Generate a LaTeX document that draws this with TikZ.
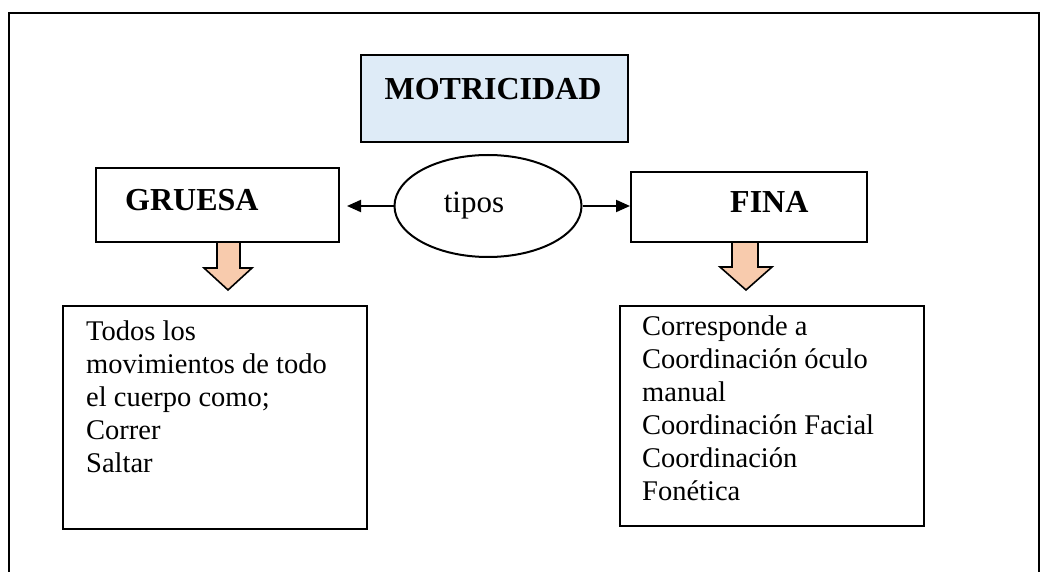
\documentclass[tikz,border=0pt]{standalone}
\usepackage{fontspec}
\setmainfont{Liberation Serif}
\usetikzlibrary{shapes.geometric,arrows.meta}
\definecolor{peach}{HTML}{F8CBAD}
\definecolor{lightblue}{HTML}{DEEBF7}
\tikzset{
  boxnode/.style={draw=black, line width=2pt, rectangle, inner sep=0pt},
  heading/.style={font=\fontsize{32}{36}\selectfont\bfseries, inner sep=0pt, anchor=base west},
  bodytext/.style={font=\fontsize{28.5}{33}\selectfont, inner sep=0pt, anchor=north west, align=left},
  linkarrow/.style={line width=2pt, -{Triangle[length=14pt,width=12pt]}},
  blockarrow/.style={draw=black, line width=1.6pt, fill=peach, line join=miter}
}
\begin{document}
\begin{tikzpicture}[x=1pt,y=-1pt]
\useasboundingbox (0,0) rectangle (1050,572);
% outer frame
\draw[line width=2.6pt] (9,572) -- (9,13) -- (1039,13) -- (1039,572);
% title box
\node[boxnode, fill=lightblue, minimum width=267pt, minimum height=87pt] (motr) at (494.5,98.5) {};
\node[heading, anchor=base] (motrtext) at (493,100) {MOTRICIDAD};
% type boxes
\node[boxnode, minimum width=243pt, minimum height=74pt] (gru) at (217.5,205) {};
\node[heading] (grutext) at (125,211) {GRUESA};
\node[boxnode, minimum width=236pt, minimum height=70pt] (fina) at (749,207) {};
\node[heading] (finatext) at (730,213) {FINA};
% ellipse
\node[draw, line width=2pt, ellipse, minimum width=187pt, minimum height=102pt, inner sep=0pt] (tipos) at (488,206) {};
\node[font=\fontsize{31}{36}\selectfont, inner sep=0pt, anchor=base] (tipostext) at (474,213) {tipos};
\coordinate (gruarrowtip) at (347,206);
\draw[linkarrow] (tipos.west) -- (gruarrowtip);
\draw[linkarrow] (tipos.east) -- (tipos.east -| fina.west);
% block arrows
\draw[blockarrow] (217,242) -- (240,242) -- (240,268) -- (252,268) -- (228,290) -- (204,268) -- (217,268) -- cycle;
\draw[blockarrow] (732,242) -- (758,242) -- (758,267) -- (772,267) -- (746,290) -- (720,267) -- (732,267) -- cycle;
% detail boxes
\node[boxnode, minimum width=304pt, minimum height=223pt] (grudet) at (215,417.5) {};
\node[bodytext] (grudettext) at (86,321) {Todos los\\movimientos de todo\\el cuerpo como;\\Correr\\Saltar};
\node[boxnode, minimum width=304pt, minimum height=220pt] (finadet) at (772,416) {};
\node[bodytext] (finadettext) at (642,316) {Corresponde a\\Coordinación óculo\\manual\\Coordinación Facial\\Coordinación\\Fonética};
\end{tikzpicture}
\end{document}
